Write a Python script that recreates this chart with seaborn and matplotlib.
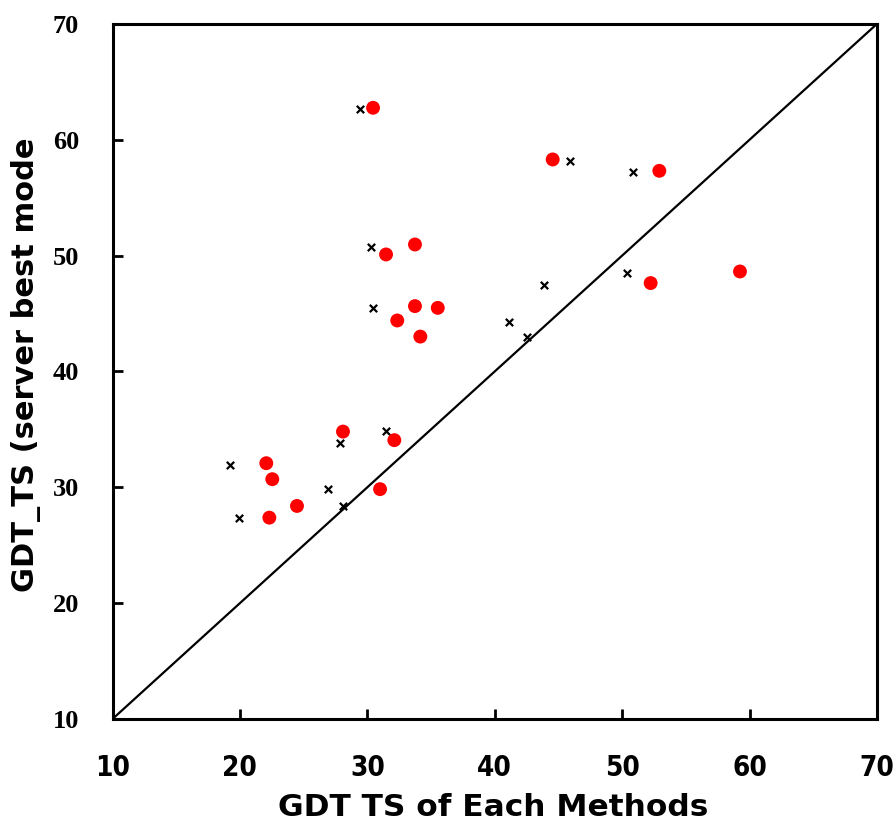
"""GDT_TS of server best model vs. each method"""

from matplotlib import font_manager
from matplotlib import pyplot as plt
import pandas as pd
import seaborn as sns

# points that beat the server best model (red) and the others (black x)
method_x = [30.45, 31.47, 33.74, 33.74, 35.53, 32.35, 34.16, 44.55, 52.92,
            59.25, 52.24, 28.09, 32.12, 22.07, 22.54, 31.0, 24.48, 22.31]
server_y = [62.76, 50.10, 50.96, 45.64, 45.49, 44.40, 43.01, 58.30, 57.32,
            48.63, 47.63, 34.81, 34.07, 32.08, 30.70, 29.84, 28.39, 27.38]

other_x = [29.43, 30.31, 30.42, 45.93, 50.88, 50.41, 43.89, 41.15, 42.56,
           27.86, 31.44, 19.25, 26.94, 28.12, 19.95]
other_y = [62.65, 50.73, 45.49, 58.16, 57.21, 48.49, 47.50, 44.25, 42.99,
           33.81, 34.87, 31.96, 29.84, 28.39, 27.38]

axis_range = [10, 70]
ticks = [10, 20, 30, 40, 50, 60, 70]


def narrow_font(size):
    # look for a condensed bold sans, fall back to plain bold
    files = [f.fname for f in font_manager.fontManager.ttflist]
    for key in ("LiberationSansNarrow-Bold.", "DejaVuSansCondensed-Bold."):
        for fname in files:
            if key in fname:
                return font_manager.FontProperties(fname=fname, size=size), True
    return font_manager.FontProperties(family="DejaVu Sans", weight="bold",
                                       size=size), False


def main():
    sns.set_theme(style="white")

    fig = plt.figure(figsize=(8.93, 8.25), dpi=100)
    ax = fig.add_axes([0.126, 0.1285, 0.856, 0.8425])

    # identity line
    ax.plot(axis_range, axis_range, color="black", lw=1.6, zorder=1)

    df_red = pd.DataFrame({"x": method_x, "y": server_y})
    df_other = pd.DataFrame({"x": other_x, "y": other_y})
    sns.scatterplot(data=df_other, x="x", y="y", marker="x", color="black",
                    s=28, linewidth=1.6, ax=ax, zorder=2)
    sns.scatterplot(data=df_red, x="x", y="y", marker="o", color="#ff0000",
                    s=100, edgecolor="none", ax=ax, zorder=3)

    ax.set_xlim(axis_range)
    ax.set_ylim(axis_range)
    ax.set_xticks(ticks)
    ax.set_yticks(ticks)

    tick_fp, cond = narrow_font(20)
    if not cond:
        tick_fp.set_size(16)

    ax.set_xticklabels([str(t) for t in ticks], fontproperties=tick_fp)
    ax.set_yticklabels([str(t) for t in ticks], family="Liberation Serif",
                       fontweight="bold", fontsize=19)
    ax.tick_params(axis="x", direction="in", length=7, width=2, pad=25,
                   colors="black", bottom=True)
    ax.tick_params(axis="y", direction="in", length=7, width=2, pad=24,
                   colors="black", left=True)

    for sp in ax.spines.values():
        sp.set_linewidth(2.2)
        sp.set_color("black")

    ax.set_xlabel("GDT TS of Each Methods", family="DejaVu Sans",
                  fontweight="bold", fontsize=22.5, color="black")
    ax.set_ylabel("GDT_TS (server best mode", family="DejaVu Sans",
                  fontweight="bold", fontsize=22, color="black")
    ax.xaxis.set_label_coords(0.498, -0.106)
    ax.yaxis.set_label_coords(-0.094, 0.51)

    fig.savefig("out.png", dpi=100)


if __name__ == "__main__":
    main()
